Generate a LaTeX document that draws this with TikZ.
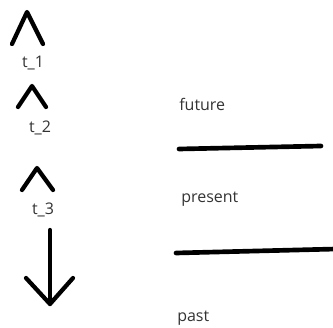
\documentclass[tikz,border=0pt]{standalone}
\usepackage{fontspec}
\setmainfont{Open Sans}
\begin{document}
\begin{tikzpicture}[
    x=0.75pt, y=-0.75pt,
    stroke_style/.style={black, line width=3.2pt, line cap=round, line join=round},
    bar_style/.style={black, line width=3.5pt, line cap=round},
    label_style/.style={font=\fontsize{12}{14}\selectfont, text=black!80, inner sep=0pt}
]
    \useasboundingbox (0,0) rectangle (333,328);

    % --- time marks on the left ---
    \draw[stroke_style] (12,44) -- (27,12) -- (43,44);
    \node[label_style] (t1) at (33,63) {t\_1};
    \draw[stroke_style] (18,107) -- (32,86) -- (46,107);
    \node[label_style] (t2) at (40,128) {t\_2};
    \draw[stroke_style] (22,190) -- (37,168) -- (53,190);
    \node[label_style] (t3) at (43,210) {t\_3};

    % --- big arrow down ---
    \coordinate (top) at (50,230);
    \coordinate (tip) at (50,304);
    \draw[stroke_style] (top) -- (tip);
    \draw[stroke_style] (26,278) -- (tip) -- (73,278);

    % --- labels and bars on the right ---
    \node[label_style, anchor=west] (future) at (179,104) {future};
    \coordinate (b1a) at (179,149);
    \coordinate (b1b) at (321,146);
    \draw[bar_style] (b1a) -- (b1b);
    \node[label_style, anchor=west] (present) at (181,199) {present};
    \coordinate (b2a) at (176,253);
    \coordinate (b2b) at (336,249);
    \draw[bar_style] (b2a) -- (b2b);
    \node[label_style, anchor=west] (past) at (177,318) {past};
\end{tikzpicture}
\end{document}
